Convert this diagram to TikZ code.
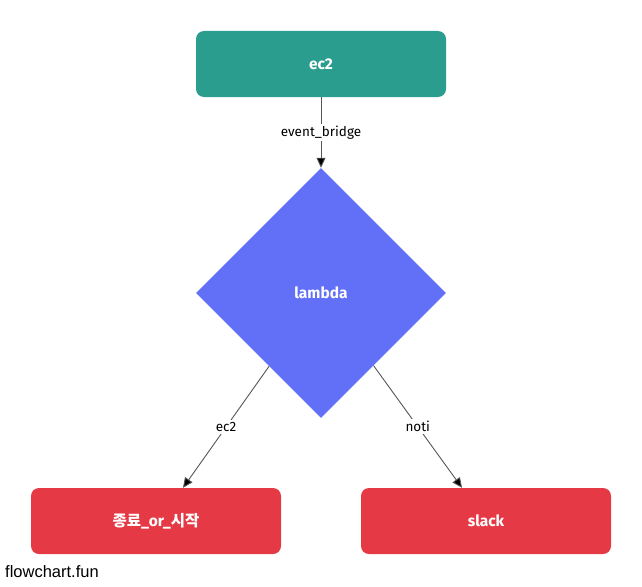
\documentclass[tikz,border=0pt]{standalone}
\usepackage{fontspec}
\setmainfont{Fira Sans}
\newfontfamily\krfont{Noto Sans CJK KR}
\newfontfamily\markfont{Liberation Sans}
\usepackage{tikz}
\usetikzlibrary{positioning,shapes.geometric,arrows.meta}
\definecolor{tealbox}{HTML}{2A9D8F}
\definecolor{bluebox}{HTML}{6170F6}
\definecolor{redbox}{HTML}{E63946}
\definecolor{edgegray}{HTML}{555555}

\begin{document}
\begin{tikzpicture}[x=1pt,y=-1pt,
	boxnode/.style={rectangle,rounded corners=8pt,minimum width=250pt,minimum height=66pt,text=white,font=\fontsize{15.5}{18}\selectfont\bfseries},
	decnode/.style={diamond,aspect=1,minimum width=250pt,minimum height=250pt,inner sep=0pt,fill=bluebox,text=white,font=\fontsize{15.5}{18}\selectfont\bfseries},
	edgelabel/.style={fill=white,inner sep=2pt,text=black,font=\fontsize{13.5}{15}\selectfont},
	flow/.style={draw=edgegray,line width=0.9pt,-{Triangle[length=10pt,width=9pt,fill=black]}}]
	
	\useasboundingbox (0,0) rectangle (642,586);
	
	\node [boxnode,fill=tealbox] (ec2) at (321, 64) {ec2};
	\node [decnode] (lambda) at (321, 293) {lambda};
	\node [boxnode,fill=redbox] (toggle) at (156, 521) {{\krfont\bfseries 종료}\_or\_{\krfont\bfseries 시작}};
	\node [boxnode,fill=redbox] (slack) at (486, 521) {slack};
	\node [font=\markfont\fontsize{16.5}{18}\selectfont,inner sep=0pt,anchor=west] (brand) at (5, 572) {flowchart.fun};
	
	% arrow ends on the box tops
	\coordinate (toggletop) at ([xshift=27pt]toggle.north);
	\coordinate (slacktop) at ([xshift=-24pt]slack.north);
	
	\draw [flow] (ec2) to node [edgelabel] {event\_bridge} (lambda);
	\draw [flow] (lambda) to node [edgelabel] {ec2} (toggletop);
	\draw [flow] (lambda) to node [edgelabel] {noti} (slacktop);
\end{tikzpicture}
\end{document}
